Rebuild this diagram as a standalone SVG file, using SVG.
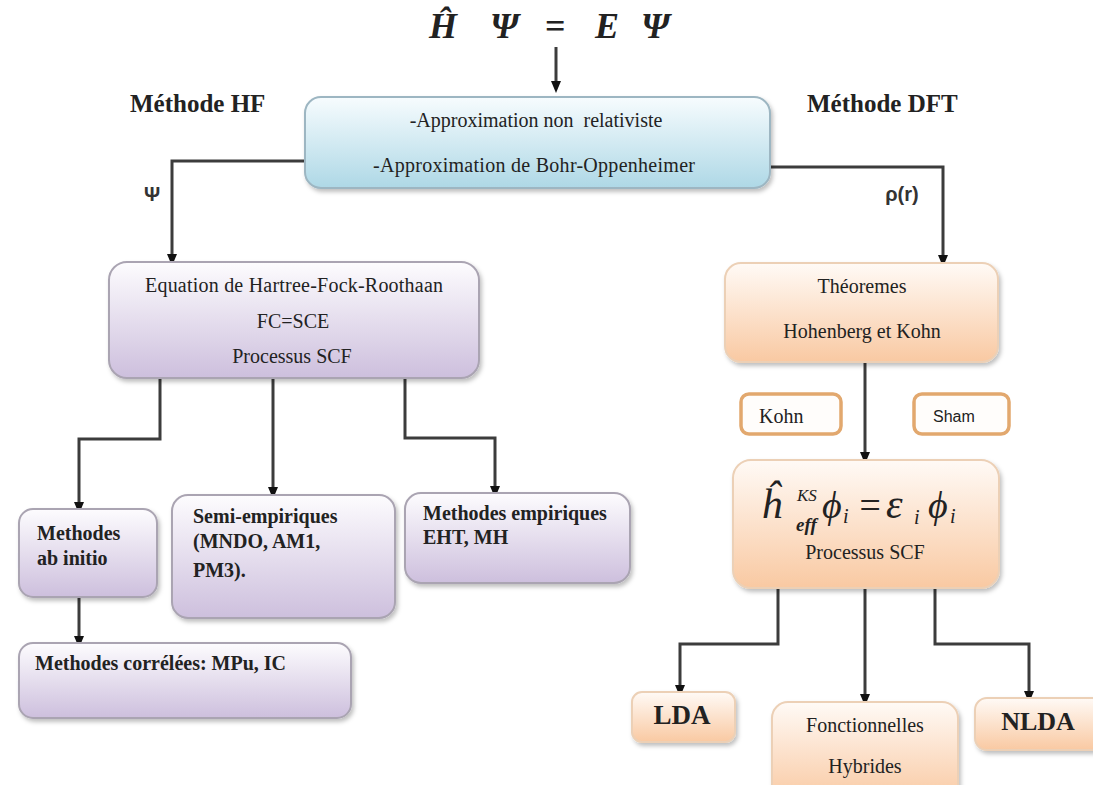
<svg xmlns="http://www.w3.org/2000/svg" width="1093" height="785" viewBox="0 0 1093 785">
<defs>
<linearGradient id="gBlue" x1="0" y1="0" x2="0" y2="1"><stop offset="0" stop-color="#f7fcfe"/><stop offset="1" stop-color="#aed8e6"/></linearGradient>
<linearGradient id="gPurple" x1="0" y1="0" x2="0" y2="1"><stop offset="0" stop-color="#fdfcfe"/><stop offset="1" stop-color="#cdbfdd"/></linearGradient>
<linearGradient id="gOrange" x1="0" y1="0" x2="0" y2="1"><stop offset="0" stop-color="#fffaf6"/><stop offset="1" stop-color="#f9c9a2"/></linearGradient>
<filter id="sh" x="-10%" y="-10%" width="125%" height="130%"><feDropShadow dx="2" dy="3" stdDeviation="2" flood-color="#000" flood-opacity="0.25"/></filter>
<marker id="arrD" markerUnits="userSpaceOnUse" markerWidth="12" markerHeight="12" viewBox="0 0 12 12" refX="6" refY="6" orient="auto">
<path d="M0,1 L12,6 L0,11 Z" fill="#111"/>
</marker>
</defs>
<style>
.blue{fill:url(#gBlue);stroke:#9db6c2;stroke-width:2;filter:url(#sh)}
.purple{fill:url(#gPurple);stroke:#aaa4b2;stroke-width:2;filter:url(#sh)}
.orange{fill:url(#gOrange);stroke:#ecd0b6;stroke-width:2;filter:url(#sh)}
.tag{fill:#fffdfb;stroke:#e2a86e;stroke-width:3.5}
.t{font-family:"Liberation Serif",serif;font-size:20px;fill:#222}
.tb{font-family:"Liberation Serif",serif;font-size:20px;font-weight:bold;fill:#222}
.h{font-family:"Liberation Serif",serif;font-size:25px;font-weight:bold;fill:#222}
.m{font-family:"Liberation Serif",serif;font-style:italic;fill:#222}
.lab{font-family:"Liberation Sans",sans-serif;font-weight:bold;font-size:20px;fill:#333}
.c{stroke:#3c3c3c;stroke-width:3;fill:none;marker-end:url(#arrD)}
</style>
<rect width="1093" height="785" fill="#ffffff"/>

<g id="title">
<text class="m" font-size="36" font-weight="bold" y="38"><tspan x="429">Ĥ</tspan><tspan x="490">Ψ</tspan><tspan x="545" font-style="normal">=</tspan><tspan x="595">E</tspan><tspan x="641">Ψ</tspan></text>
</g>

<g id="label-hf"><text class="h" x="130" y="112">Méthode HF</text></g>
<g id="label-dft"><text class="h" x="807" y="112">Méthode DFT</text></g>
<g id="label-psi"><text class="lab" x="152" y="201" text-anchor="middle">Ψ</text></g>
<g id="label-rho"><text class="lab" x="902" y="201" text-anchor="middle">ρ(r)</text></g>

<g id="connectors">
<path class="c" d="M556,47 V87" stroke="#111" stroke-width="2"/>
<path class="c" d="M305,161 H172 V260"/>
<path class="c" d="M770,167 H943 V261"/>
<path class="c" d="M160,378 V439 H79 V508"/>
<path class="c" d="M273,378 V493"/>
<path class="c" d="M405,378 V438 H495 V492"/>
<path class="c" d="M79,598 V642"/>
<path class="c" d="M865,362 V458" stroke-width="2"/>
<path class="c" d="M778,588 V644 H680 V691"/>
<path class="c" d="M865,588 V700"/>
<path class="c" d="M935,588 V644 H1029 V697"/>
</g>

<g id="approx">
<rect class="blue" x="305" y="97" width="465" height="91" rx="16"/>
<text class="t" x="536" y="127" text-anchor="middle">-Approximation non&#160; relativiste</text>
<text class="t" x="534" y="172" text-anchor="middle" textLength="322">-Approximation de Bohr-Oppenheimer</text>
</g>

<g id="hf-eq">
<rect class="purple" x="109" y="262" width="370" height="116" rx="18"/>
<text class="t" x="294" y="292" text-anchor="middle" textLength="298">Equation de Hartree-Fock-Roothaan</text>
<text class="t" x="293" y="328" text-anchor="middle">FC=SCE</text>
<text class="t" x="292" y="363" text-anchor="middle">Processus SCF</text>
</g>

<g id="ab-initio">
<rect class="purple" x="19" y="509" width="138" height="88" rx="14"/>
<text class="tb" x="37" y="540">Methodes</text>
<text class="tb" x="37" y="565">ab initio</text>
</g>

<g id="semi">
<rect class="purple" x="172" y="495" width="223" height="123" rx="16"/>
<text class="tb" x="193" y="523">Semi-empiriques</text>
<text class="tb" x="193" y="548">(MNDO, AM1,</text>
<text class="tb" x="193" y="577">PM3).</text>
</g>

<g id="empiriques">
<rect class="purple" x="405" y="493" width="225" height="90" rx="16"/>
<text class="tb" x="423" y="520">Methodes empiriques</text>
<text class="tb" x="423" y="544">EHT, MH</text>
</g>

<g id="correlees">
<rect class="purple" x="19" y="643" width="332" height="75" rx="14"/>
<text class="tb" x="35" y="670">Methodes corrélées: MPu, IC</text>
</g>

<g id="theoremes">
<rect class="orange" x="725" y="263" width="273" height="99" rx="16"/>
<text class="t" x="862" y="293" text-anchor="middle">Théoremes</text>
<text class="t" x="862" y="338" text-anchor="middle">Hohenberg et Kohn</text>
</g>

<g id="kohn">
<rect class="tag" x="741" y="394" width="100" height="40" rx="8"/>
<text class="t" x="759" y="423">Kohn</text>
</g>

<g id="sham">
<rect class="tag" x="914" y="394" width="95" height="40" rx="8"/>
<text x="933" y="422" font-family="'Liberation Sans',sans-serif" font-size="16" fill="#222">Sham</text>
</g>

<g id="ks">
<rect class="orange" x="733" y="460" width="266" height="128" rx="18"/>
<text class="m" font-size="42" x="761" y="518">ĥ</text>
<text class="m" font-size="17" x="797" y="501">KS</text>
<text class="m" font-size="19" x="796" y="531" font-weight="bold">eff</text>
<text class="m" font-size="38" x="822" y="518">ϕ</text>
<text class="m" font-size="20" x="843" y="523">i</text>
<text class="m" font-size="38" x="857" y="518" font-style="normal">=</text>
<text class="m" font-size="42" x="886" y="518">ε</text>
<text class="m" font-size="20" x="914" y="524">i</text>
<text class="m" font-size="38" x="928" y="518">ϕ</text>
<text class="m" font-size="20" x="950" y="523">i</text>
<text class="t" x="865" y="559" text-anchor="middle">Processus SCF</text>
</g>

<g id="lda">
<rect class="orange" x="632" y="692" width="103" height="50" rx="10"/>
<text class="tb" x="682" y="724" text-anchor="middle" style="font-size:27px">LDA</text>
</g>

<g id="hybrides">
<rect class="orange" x="772" y="702" width="186" height="100" rx="16"/>
<text class="t" x="865" y="732" text-anchor="middle">Fonctionnelles</text>
<text class="t" x="865" y="773" text-anchor="middle">Hybrides</text>
</g>

<g id="nlda">
<rect class="orange" x="975" y="698" width="130" height="52" rx="12"/>
<text class="tb" x="1038" y="730" text-anchor="middle" style="font-size:26px">NLDA</text>
</g>
</svg>
